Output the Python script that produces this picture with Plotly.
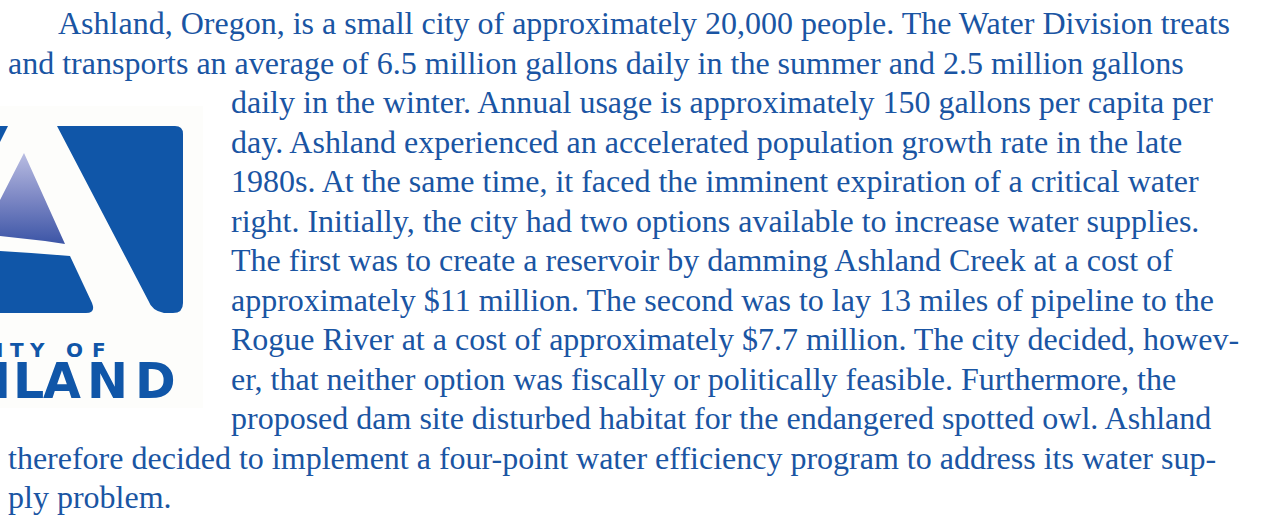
import plotly.graph_objects as go

# ---------------- text content ----------------
LINES = [
    "Ashland, Oregon, is a small city of approximately 20,000 people. The Water Division treats",
    "and transports an average of 6.5 million gallons daily in the summer and 2.5 million gallons",
    "daily in the winter. Annual usage is approximately 150 gallons per capita per",
    "day. Ashland experienced an accelerated population growth rate in the late",
    "1980s. At the same time, it faced the imminent expiration of a critical water",
    "right. Initially, the city had two options available to increase water supplies.",
    "The first was to create a reservoir by damming Ashland Creek at a cost of",
    "approximately $11 million. The second was to lay 13 miles of pipeline to the",
    "Rogue River at a cost of approximately $7.7 million. The city decided, howev-",
    "er, that neither option was fiscally or politically feasible. Furthermore, the",
    "proposed dam site disturbed habitat for the endangered spotted owl. Ashland",
    "therefore decided to implement a four-point water efficiency program to address its water sup-",
    "ply problem.",
]
LINE_X = [57, 7, 230, 230, 230, 230, 230, 230, 230, 230, 230, 7, 7]

CITY_LETTERS = ["I", "T", "Y", "O", "F"]
CITY_X = [4, 17, 37, 74, 99]
CITY_ANCHOR = ["right", "center", "center", "center", "center"]

NAME_LETTERS = ["H", "L", "A", "N", "D"]
NAME_X = [12, 28, 62, 107, 155]
NAME_ANCHOR = ["right", "center", "center", "center", "center"]

# ---------------- styles ----------------
W, H = 1266, 519
TEXT_COLOR = "#1a55a3"
LOGO_BLUE = "#1056a8"
BODY_FONT = "Liberation Serif"
BODY_SIZE = 32
BASELINE0 = 34
LINE_STEP = 39.5

fig = go.Figure()

# gradient triangle inside the "A"
TRI_X = [24, 65, 45, 20, 0, 0, 24]
TRI_Y = [153, 244, 241, 238, 236, 200, 153]
fig.add_trace(go.Scatter(
    x=TRI_X, y=TRI_Y, mode="lines", line=dict(width=0),
    fill="toself",
    fillgradient=dict(type="vertical", start=153, stop=244,
                      colorscale=[[0, "#b9bde2"], [0.5, "#7c87c4"], [1, "#3c55a6"]]),
    hoverinfo="skip", showlegend=False,
))

shapes = [
    # faint logo backdrop
    dict(type="rect", x0=0, x1=203, y0=106, y1=408, fillcolor="#fdfdfb",
         line=dict(width=0), layer="below"),
    # right blue block of the logo
    dict(type="path",
         path="M57,126 L175,126 Q183,126 183,134 L183,303 Q183,313 173,313 "
              "L164,313 Q152,311 148,300 Z",
         fillcolor=LOGO_BLUE, line=dict(width=0)),
    # top-left blue sliver
    dict(type="path", path="M0,126 L8,126 L0,142 Z",
         fillcolor=LOGO_BLUE, line=dict(width=0)),
    # bottom-left blue block below crossbar
    dict(type="path",
         path="M0,251 Q35,253 70,256 L92,303 Q96,313 86,313 L0,313 Z",
         fillcolor=LOGO_BLUE, line=dict(width=0)),
]

annotations = []
for i, (txt, x0) in enumerate(zip(LINES, LINE_X)):
    base = BASELINE0 + LINE_STEP * i
    annotations.append(dict(
        x=x0, y=base - 10.8, xref="x", yref="y", text=txt, showarrow=False,
        xanchor="left", yanchor="middle", borderpad=0,
        font=dict(family=BODY_FONT, size=BODY_SIZE, color=TEXT_COLOR),
    ))

for ch, x, anc in zip(CITY_LETTERS, CITY_X, CITY_ANCHOR):
    annotations.append(dict(
        x=x, y=357 - 0.346 * 20, xref="x", yref="y", text="<b>%s</b>" % ch,
        showarrow=False, xanchor=anc, yanchor="middle", borderpad=0,
        font=dict(family="DejaVu Sans", size=20, color=LOGO_BLUE),
    ))

for ch, x, anc in zip(NAME_LETTERS, NAME_X, NAME_ANCHOR):
    annotations.append(dict(
        x=x, y=398 - 0.346 * 49, xref="x", yref="y", text="<b>%s</b>" % ch,
        showarrow=False, xanchor=anc, yanchor="middle", borderpad=0,
        font=dict(family="DejaVu Sans", size=49, color=LOGO_BLUE),
    ))

fig.update_layout(
    width=W, height=H, autosize=False,
    margin=dict(l=0, r=0, t=0, b=0, pad=0),
    paper_bgcolor="white", plot_bgcolor="white",
    xaxis=dict(range=[0, W], visible=False, fixedrange=True),
    yaxis=dict(range=[H, 0], visible=False, fixedrange=True),
    shapes=shapes, annotations=annotations, showlegend=False,
)

fig.write_html("out.html", config={"displayModeBar": False},
               post_script="document.body.style.margin='0';document.body.style.overflow='hidden';")
